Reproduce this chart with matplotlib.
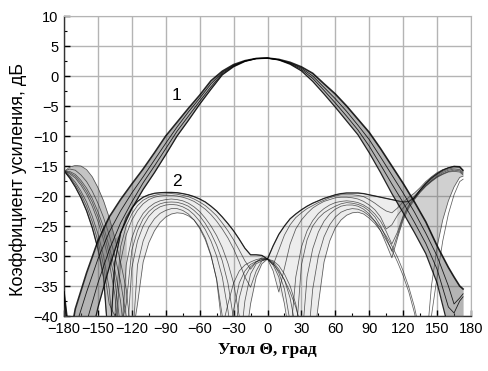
import numpy as np
import matplotlib
matplotlib.use("Agg")
import matplotlib.pyplot as plt
from matplotlib.ticker import MultipleLocator

# ---- data ----
# family 1 (main lobe), angles in degrees
theta1 = [-180, -175] + list(range(-170, 161, 10)) + [165, 170, 173]
lobe1_a = [-36, -44, -38.8, -32.8, -27.5, -23.5, -20.6, -18, -15.5, -12.8, -10, -7.7,
           -5.4, -3.2, -0.8, 0.8, 1.9, 2.55, 2.92, 2.99, 2.77, 2.28, 1.52, 0.45, -1.3,
           -3.0, -5.0, -7.2, -9.4, -12.1, -15.0, -17.9, -21.0, -24.3, -28.3, -31.9,
           -33.5, -35.0, -35.5]
lobe1_b = [-37, -46, -42, -36, -30.5, -26, -22.5, -19.5, -16.8, -14, -11.2, -8.5, -6,
           -3.7, -1.3, 0.6, 1.75, 2.5, 2.92, 2.99, 2.72, 2.15, 1.3, 0.0, -1.9, -3.8,
           -5.9, -8.2, -10.6, -13.5, -16.5, -19.5, -22.7, -26.2, -30, -35, -38, -37,
           -36.3]
lobe1_c = [-45, -50, -50, -41, -34.5, -29, -24.5, -21, -17.8, -15, -12.1, -9.2, -6.7,
           -4.2, -1.8, 0.4, 1.65, 2.47, 2.91, 2.99, 2.7, 2.05, 1.1, -0.4, -2.4, -4.5,
           -6.7, -9.0, -11.7, -14.8, -18.0, -21.1, -24.4, -27.9, -32.2, -38.5, -39.5,
           -37.5, -36.8]
lobe1_d = [-50, -50, -50, -47, -38.6, -31.9, -26.1, -22.1, -18.9, -16.1, -13.1, -10.0,
           -7.4, -4.7, -2.2, 0.2, 1.55, 2.43, 2.9, 2.98, 2.67, 1.96, 0.85, -0.9, -3.0,
           -5.2, -7.5, -9.8, -12.8, -16.1, -19.6, -22.8, -26.1, -29.6, -34.5, -42, -50,
           -50, -50]

# family 2 (side lobes)
theta2 = list(range(-180, 171, 5)) + [173]
side_1 = [-15.8, -17.0, -18.5, -20.3, -22.5, -25.3, -28.8, -33.5, -46,
          -31.0, -26.3, -23.6, -22.0, -20.9, -20.2, -19.8, -19.55, -19.45,
          -19.4, -19.4, -19.45, -19.6, -19.8, -20.1, -20.5, -21.0, -21.7,
          -22.5, -23.5, -24.6, -25.8, -27.2, -28.7, -29.8, -29.8, -29.9,
          -30.5, -28.3, -26.4, -25.0, -23.8, -23.0, -22.3, -21.7, -21.2,
          -20.8, -20.4, -20.1, -19.8, -19.6, -19.5, -19.5, -19.5, -19.6,
          -19.8, -20.0, -20.2, -20.4, -20.6, -20.8, -21.0, -20.9, -20.3,
          -19.0, -17.9, -17.0, -16.3, -15.7, -15.3, -15.05, -15.1, -15.7]
side_2 = [-15.8, -16.8, -18.1, -19.7, -21.7, -24.3, -27.5, -31.5, -38.0,
          -40.0, -28.5, -25.0, -23.0, -21.6, -20.7, -20.2, -19.9, -19.7,
          -19.65, -19.6, -19.7, -19.9, -20.1, -20.5, -21.0, -21.6, -22.4,
          -23.3, -24.5, -25.8, -27.3, -29.0, -30.8, -32.2, -31.0, -30.3,
          -30.5, -31.5, -29.0, -26.5, -24.8, -23.6, -22.8, -22.1, -21.6,
          -21.1, -20.7, -20.3, -20.0, -19.8, -19.8, -19.8, -19.9, -20.1,
          -20.6, -21.2, -21.9, -22.5, -22.8, -22.0, -21.0, -20.2, -19.5,
          -18.6, -17.6, -16.8, -16.1, -15.6, -15.3, -15.1, -15.2, -15.8]
side_3 = [-15.8, -16.6, -17.7, -19.2, -21.0, -23.4, -26.3, -30.0, -35.5,
          -46, -31.0, -26.5, -24.0, -22.4, -21.3, -20.6, -20.2, -20.0,
          -19.9, -19.9, -20.0, -20.2, -20.5, -20.9, -21.5, -22.2, -23.1,
          -24.2, -25.5, -27.0, -28.8, -31.0, -33.5, -35.2, -32.5, -30.8,
          -30.5, -32.5, -36.0, -32.0, -28.0, -25.5, -24.0, -22.9, -22.0,
          -21.4, -20.9, -20.6, -20.3, -20.2, -20.2, -20.3, -20.5, -20.9,
          -21.5, -22.3, -23.5, -25.5, -24.8, -23.2, -22.0, -21.0, -20.0,
          -19.0, -18.0, -17.2, -16.5, -15.9, -15.5, -15.3, -15.3, -15.9]
side_4 = [-15.8, -16.3, -17.0, -18.2, -19.7, -21.7, -24.2, -27.3, -31.0,
          -36.5, -46, -31.5, -27.0, -24.5, -22.9, -21.9, -21.2, -20.8,
          -20.6, -20.5, -20.6, -20.8, -21.2, -21.8, -22.6, -23.7, -25.0,
          -26.6, -28.6, -31.2, -34.5, -40.0, -45.0, -38.0, -33.5, -31.3,
          -30.5, -31.5, -33.5, -38.0, -44.0, -33.5, -28.5, -25.8, -24.1,
          -22.9, -22.1, -21.5, -21.1, -20.9, -20.8, -20.9, -21.1, -21.5,
          -22.1, -23.0, -24.2, -25.9, -28.0, -26.0, -23.3, -21.5, -20.2,
          -19.1, -18.2, -17.4, -16.7, -16.1, -15.7, -15.5, -15.6, -16.1]
side_5 = [-15.9, -16.1, -16.7, -17.8, -19.2, -21.0, -23.4, -26.2, -29.6,
          -34.0, -42.0, -38.0, -29.0, -25.8, -23.8, -22.6, -21.8, -21.3,
          -21.05, -21.0, -21.05, -21.3, -21.7, -22.4, -23.3, -24.6, -26.2,
          -28.2, -30.8, -34.5, -40.5, -46.0, -37.5, -33.0, -31.3, -30.8,
          -30.5, -31.2, -32.8, -35.5, -41.0, -44.0, -31.5, -27.3, -25.0,
          -23.7, -22.8, -22.2, -21.7, -21.3, -21.1, -21.2, -21.4, -21.8,
          -22.5, -23.5, -25.0, -27.0, -29.2, -26.5, -23.6, -21.7, -20.4,
          -19.3, -18.3, -17.5, -16.8, -16.3, -15.9, -15.7, -15.8, -16.3]
side_6 = [-15.9, -15.9, -16.4, -17.4, -18.7, -20.4, -22.6, -25.2, -28.4,
          -32.3, -37.5, -46, -32.0, -27.5, -25.0, -23.4, -22.4, -21.8,
          -21.5, -21.4, -21.5, -21.8, -22.3, -23.1, -24.2, -25.6, -27.5,
          -30.0, -33.5, -39.0, -46.0, -37.0, -33.5, -31.8, -31.0, -30.6,
          -30.5, -31.0, -32.2, -34.0, -37.0, -42.0, -45.0, -33.5, -28.8,
          -26.0, -24.2, -23.0, -22.2, -21.7, -21.5, -21.5, -21.7, -22.2,
          -23.0, -24.2, -25.8, -28.0, -30.3, -27.0, -24.0, -22.0, -20.6,
          -19.4, -18.4, -17.6, -16.9, -16.4, -16.0, -15.9, -16.0, -16.5]
side_7 = [-15.9, -15.5, -15.7, -16.5, -17.6, -19.2, -21.2, -23.6, -26.5,
          -30.0, -34.2, -40.0, -46.0, -31.5, -27.5, -25.2, -23.8, -22.9,
          -22.4, -22.1, -22.1, -22.4, -23.0, -24.0, -25.4, -27.3, -30.0,
          -33.8, -40.0, -46.0, -39.0, -34.5, -32.5, -31.4, -30.9, -30.6,
          -30.5, -30.8, -31.6, -33.0, -35.0, -38.0, -43.0, -46.0, -35.5,
          -30.0, -26.8, -24.8, -23.5, -22.7, -22.3, -22.1, -22.2, -22.6,
          -23.3, -24.2, -25.3, -26.7, -28.3, -30.2, -32.5, -35.2, -38.5,
          -43.0, -46.0, -35.0, -28.5, -24.0, -20.8, -18.5, -16.9, -16.7]
side_8 = [-15.9, -15.2, -14.9, -15.0, -15.6, -16.8, -18.6, -20.8, -23.6,
          -27.0, -31.0, -35.5, -44.0, -38.0, -31.0, -27.8, -25.8, -24.4,
          -23.5, -23.0, -22.8, -22.9, -23.3, -24.0, -25.2, -27.0, -29.8,
          -34.0, -42.0, -38.0, -34.5, -32.5, -31.5, -31.0, -30.6, -30.4,
          -30.5, -31.3, -32.5, -34.0, -36.0, -38.5, -42.0, -46.0, -46.0,
          -38.0, -31.0, -27.5, -25.3, -24.0, -23.2, -22.8, -22.7, -23.0,
          -23.7, -24.6, -25.8, -27.3, -29.0, -31.0, -33.3, -36.0, -39.5,
          -44.0, -46.0, -40.0, -33.5, -27.5, -23.0, -19.8, -17.6, -17.2]

xticks = list(range(-180, 181, 30))
yticks = list(range(-40, 11, 5))

# ---- figure ----
plt.rcParams['font.family'] = ['Liberation Sans', 'DejaVu Sans']
fig = plt.figure(figsize=(4.89, 3.71), dpi=100)
ax = fig.add_axes([64 / 489, 1 - 316 / 371, 407 / 489, 300 / 371])

ax.grid(True, color='#b4b4b4', lw=1.0, zorder=0)
ax.set_axisbelow(True)

th2 = np.array(theta2)
side = np.array([side_1, side_2, side_3, side_4, side_5, side_6, side_7, side_8])
top2 = side.max(axis=0)
bot2 = side.min(axis=0)
vlow = side[1:6].min(axis=0)   # curves 2-6 have the shallow nulls near 110 deg
low2 = np.where(th2 <= 100, bot2, vlow)

# light shading of the whole side-lobe family up to 115 deg
ax.fill_between(th2, low2, top2, where=th2 <= 115, color='0.5', alpha=0.14, lw=0, zorder=1)
# darker fan of the back lobe on the left
ax.fill_between(th2, bot2, top2, where=th2 <= -125, color='0.4', alpha=0.3, lw=0, zorder=1)
# fan of the outer lobe on the right: top envelope down to the nulls,
# the upper edge of the main lobe and the narrow outer lobe (curve 7)
a1 = np.array(lobe1_a)
t1 = np.array(theta1)
r_top = th2 >= 115
r_out = th2 >= 150
r_v = (th2 >= 115) & (th2 <= 125)
mid = (t1 >= 130) & (t1 <= 140)
fan_x = np.concatenate([th2[r_top], th2[r_out][::-1], t1[mid][::-1], th2[r_v][::-1]])
fan_y = np.concatenate([top2[r_top], side[6][r_out][::-1], a1[mid][::-1], vlow[r_v][::-1]])
ax.fill(fan_x, fan_y, color='0.4', alpha=0.3, lw=0, zorder=1)

for s in side:
    ax.plot(th2, s, color='0.1', lw=0.55, alpha=0.7, zorder=2)
ax.plot(th2, side_1, color='0.05', lw=0.9, alpha=0.8, zorder=2)

ax.fill_between(theta1, lobe1_d, lobe1_a, color='0.35', alpha=0.45, lw=0, zorder=3)
for c, w in [(lobe1_a, 1.2), (lobe1_b, 0.6), (lobe1_c, 0.6), (lobe1_d, 0.9)]:
    ax.plot(theta1, c, color='black', lw=w, alpha=0.85, zorder=4)

ax.text(-80.5, -3.2, '1', fontsize=12.5, ha='center', va='center')
ax.text(-80.5, -17.6, '2', fontsize=12.5, ha='center', va='center')

ax.set_xlim(-180, 180)
ax.set_ylim(-40, 10)
ax.set_xticks(xticks)
ax.set_yticks(yticks)
ax.xaxis.set_minor_locator(MultipleLocator(15))
ax.yaxis.set_minor_locator(MultipleLocator(2.5))
ax.tick_params(which='major', direction='in', length=4, width=1, labelsize=10.5, pad=4)
ax.tick_params(which='minor', direction='in', length=2.5, width=0.8)
ax.tick_params(top=False, right=False, which='both')

for sp in ['left', 'bottom']:
    ax.spines[sp].set_color('0.2')
    ax.spines[sp].set_linewidth(1.0)
for sp in ['top', 'right']:
    ax.spines[sp].set_color('#b4b4b4')

ax.set_ylabel('Коэффициент усиления, дБ', fontsize=13)
ax.yaxis.set_label_coords(-0.092, 0.455)
ax.set_xlabel('Угол Θ, град', fontsize=12.5, family=['Liberation Serif', 'DejaVu Serif'],
              fontweight='bold', labelpad=5)

fig.savefig('out.png', dpi=100)
